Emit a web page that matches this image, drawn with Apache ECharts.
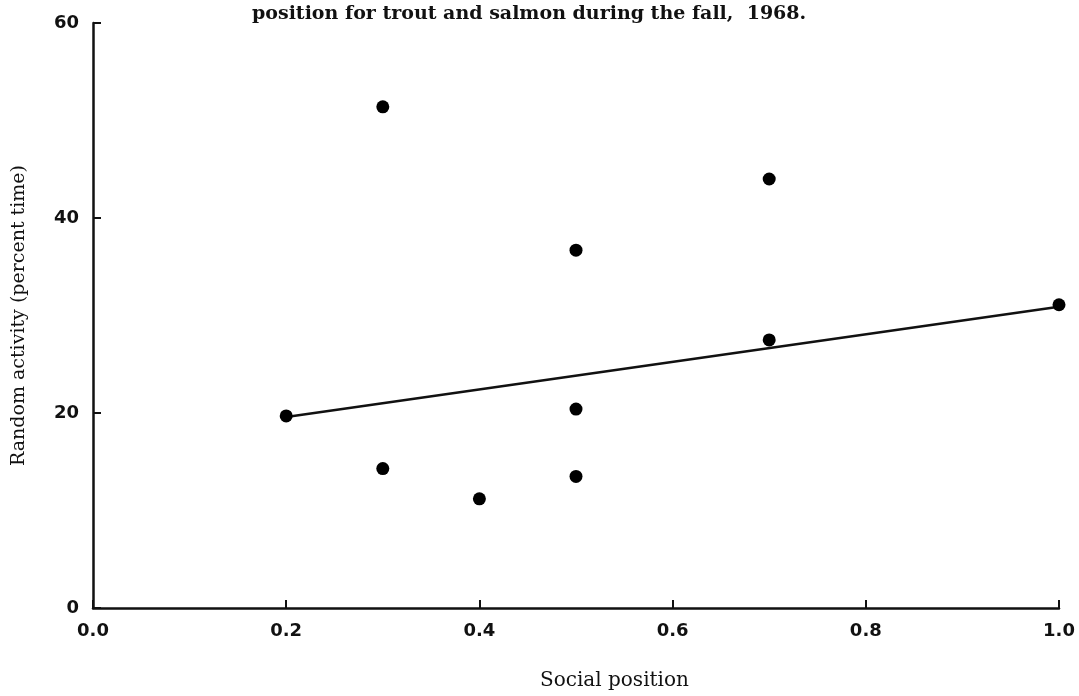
<!DOCTYPE html>
<html>
<head>
<meta charset="utf-8">
<script src="https://cdn.jsdelivr.net/npm/echarts@6/dist/echarts.min.js"></script>
<style>
  html, body { margin: 0; padding: 0; background: #fff; }
  #chart { width: 1079px; height: 696px; }
</style>
</head>
<body>
<div id="chart"></div>
<script>
var socialPos = [0.2, 0.3, 0.3, 0.4, 0.5, 0.5, 0.5, 0.7, 0.7, 1.0];
var randomActivity = [19.7, 51.4, 14.3, 11.2, 36.7, 20.4, 13.5, 44.0, 27.5, 31.1];
var fitX = [0.2, 1.0];
var fitY = [19.6, 30.9];

var myChart = echarts.init(document.getElementById("chart"));

var points = socialPos.map(function (x, i) {
  return [x, randomActivity[i]];
});
var fitLine = fitX.map(function (x, i) {
  return [x, fitY[i]];
});

var option = {
  backgroundColor: "#fff",
  animation: false,
  title: {
    text: "position for trout and salmon during the fall,  1968.",
    left: 247,
    top: 0,
    textStyle: {
      fontFamily: "DejaVu Serif",
      fontSize: 19,
      fontWeight: "bold",
      color: "#111",
    },
  },
  grid: {
    left: 93,
    right: 20,
    top: 23,
    bottom: 88,
  },
  xAxis: {
    type: "value",
    min: 0,
    max: 1,
    interval: 0.2,
    splitLine: { show: false },
    axisLine: { lineStyle: { color: "#111", width: 2.5 } },
    axisTick: { inside: true, length: 8, lineStyle: { color: "#111", width: 2 } },
    axisLabel: {
      margin: 14,
      color: "#111",
      fontFamily: "DejaVu Sans",
      fontWeight: "bold",
      fontSize: 18,
      formatter: function (v) { return v.toFixed(1); },
    },
  },
  yAxis: {
    type: "value",
    min: 0,
    max: 60,
    interval: 20,
    name: "Random activity (percent time)",
    nameLocation: "middle",
    nameGap: 64,
    nameTextStyle: {
      fontFamily: "DejaVu Serif",
      fontSize: 19,
      color: "#111",
    },
    splitLine: { show: false },
    axisLine: { lineStyle: { color: "#111", width: 2.5 } },
    axisTick: { inside: true, length: 8, lineStyle: { color: "#111", width: 2 } },
    axisLabel: {
      margin: 14,
      color: "#111",
      fontFamily: "DejaVu Sans",
      fontWeight: "bold",
      fontSize: 18,
    },
  },
  graphic: [
    {
      type: "text",
      left: 540,
      top: 671,
      style: {
        text: "Social position",
        font: "20px 'DejaVu Serif'",
        fill: "#111",
      },
    },
  ],
  series: [
    {
      type: "line",
      data: fitLine,
      symbol: "none",
      lineStyle: { color: "#111", width: 2.5 },
      z: 2,
    },
    {
      type: "scatter",
      data: points,
      symbolSize: 13,
      itemStyle: { color: "#000", opacity: 1 },
      z: 3,
    },
  ],
};

myChart.setOption(option);
</script>
</body>
</html>
